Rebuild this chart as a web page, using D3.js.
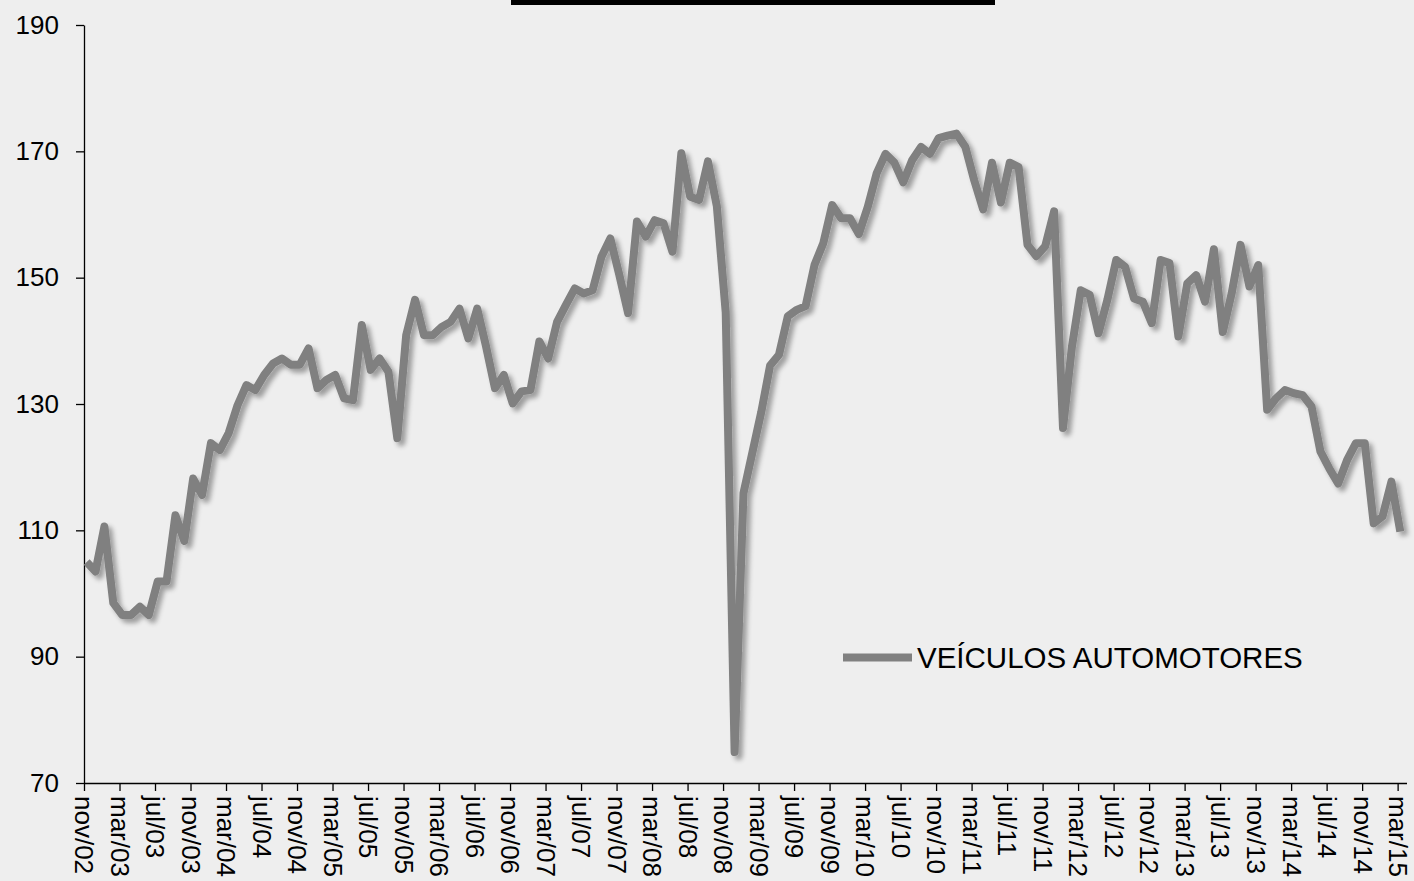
<!DOCTYPE html>
<html>
<head>
<meta charset="utf-8">
<script src="https://cdn.jsdelivr.net/npm/d3@7"></script>
<style>
  html, body { margin: 0; padding: 0; background: #eeeeee; }
  svg { display: block; }
  text { font-family: "Liberation Sans", Arial, sans-serif; fill: #000; }
</style>
</head>
<body>
<div id="chart"></div>
<script>
// ---------- Data ----------
const seriesName = "VEÍCULOS AUTOMOTORES";

// monthly index, nov/02 .. mar/15 (149 months)
const values = [
  105.0, 103.5, 110.6, 98.5, 96.6, 96.6, 97.9, 96.6, 101.9, 101.9,
  112.4, 108.3, 118.2, 115.6, 123.8, 122.7, 125.4, 129.8, 133.0, 132.2,
  134.6, 136.4, 137.2, 136.2, 136.2, 138.8, 132.5, 133.8, 134.6, 130.9,
  130.6, 142.5, 135.4, 137.2, 135.1, 124.6, 140.9, 146.5, 140.9, 140.9,
  142.2, 143.0, 145.1, 140.4, 145.1, 139.1, 132.5, 134.6, 130.1, 132.0,
  132.2, 139.9, 137.2, 143.0, 145.7, 148.3, 147.5, 148.0, 153.3, 156.2,
  150.5, 144.4, 158.9, 156.5, 159.1, 158.6, 154.1, 169.7, 162.8, 162.3,
  168.4, 161.3, 144.5, 74.9, 115.9, 122.3, 128.7, 136.1, 137.8, 143.9,
  144.9, 145.5, 152.0, 155.5, 161.5, 159.4, 159.4, 156.9, 161.2, 166.5,
  169.6, 168.2, 165.1, 168.6, 170.7, 169.6, 172.1, 172.5, 172.8, 170.7,
  165.4, 160.8, 168.2, 161.9, 168.2, 167.5, 155.2, 153.4, 155.0, 160.5,
  126.2, 139.0, 148.0, 147.3, 141.2, 146.5, 152.8, 151.7, 146.7, 146.2,
  142.8, 152.8, 152.3, 140.7, 149.1, 150.4, 146.2, 154.5, 141.4, 147.5,
  155.2, 148.6, 152.0, 129.1, 130.9, 132.2, 131.7, 131.4, 129.6, 122.5,
  119.8, 117.4, 121.1, 123.8, 123.8, 111.1, 112.2, 117.7, 109.8
];

// x tick labels, every 4 months
const tickLabels = [
  "nov/02", "mar/03", "jul/03", "nov/03", "mar/04", "jul/04", "nov/04",
  "mar/05", "jul/05", "nov/05", "mar/06", "jul/06", "nov/06", "mar/07",
  "jul/07", "nov/07", "mar/08", "jul/08", "nov/08", "mar/09", "jul/09",
  "nov/09", "mar/10", "jul/10", "nov/10", "mar/11", "jul/11", "nov/11",
  "mar/12", "jul/12", "nov/12", "mar/13", "jul/13", "nov/13", "mar/14",
  "jul/14", "nov/14", "mar/15"
];
const tickStep = 4;

const yTicks = [70, 90, 110, 130, 150, 170, 190];

// ---------- Layout ----------
const W = 1414, H = 881;
const plot = { left: 84, right: 1406.5, top: 25, bottom: 783 };

const svg = d3.select("#chart").append("svg")
  .attr("width", W)
  .attr("height", H);

svg.append("rect")
  .attr("width", W)
  .attr("height", H)
  .attr("fill", "#eeeeee");

// title box (cut off at top)
svg.append("rect")
  .attr("x", 511)
  .attr("y", -20)
  .attr("width", 484)
  .attr("height", 25)
  .attr("fill", "#000");

// drop shadow for the line
const defs = svg.append("defs");
const f = defs.append("filter")
  .attr("id", "shadow")
  .attr("x", "-5%").attr("y", "-5%")
  .attr("width", "110%").attr("height", "110%");
f.append("feGaussianBlur").attr("in", "SourceAlpha").attr("stdDeviation", 2.5).attr("result", "blur");
f.append("feOffset").attr("in", "blur").attr("dx", 4).attr("dy", 4).attr("result", "off");
f.append("feComponentTransfer").attr("in", "off").attr("result", "soft")
  .append("feFuncA").attr("type", "linear").attr("slope", 0.35);
const merge = f.append("feMerge");
merge.append("feMergeNode").attr("in", "soft");
merge.append("feMergeNode").attr("in", "SourceGraphic");

// ---------- Scales ----------
const x = d3.scaleLinear()
  .domain([0, 149])
  .range([plot.left, plot.right]);

const y = d3.scaleLinear()
  .domain([70, 190])
  .range([plot.bottom, plot.top]);

// ---------- Axes ----------
const yAxis = d3.axisLeft(y)
  .tickValues(yTicks)
  .tickSize(8)
  .tickSizeOuter(0)
  .tickPadding(17)
  .tickFormat(d3.format("d"));

const gy = svg.append("g")
  .attr("transform", `translate(${plot.left},0)`)
  .call(yAxis);
gy.selectAll("text").style("font-size", "26px");
gy.selectAll("path, line").attr("stroke", "#000").attr("stroke-width", 1.3);

const tickIdx = tickLabels.map((d, i) => i * tickStep);
const xAxis = d3.axisBottom(x)
  .tickValues(tickIdx)
  .tickSize(8)
  .tickSizeOuter(0)
  .tickFormat((d, i) => tickLabels[i]);

const gx = svg.append("g")
  .attr("transform", `translate(0,${plot.bottom})`)
  .call(xAxis);
gx.selectAll("path, line").attr("stroke", "#000").attr("stroke-width", 1.3);
gx.selectAll("text")
  .style("font-size", "26px")
  .style("text-anchor", "start")
  .attr("transform", "rotate(90)")
  .attr("x", 13)
  .attr("y", 0)
  .attr("dy", "0.35em");

// ---------- Line ----------
const line = d3.line()
  .x((d, i) => x(i + 0.3))
  .y(d => y(d));

svg.append("path")
  .datum(values)
  .attr("d", line)
  .attr("fill", "none")
  .attr("stroke", "#808080")
  .attr("stroke-width", 8)
  .attr("stroke-linejoin", "round")
  .attr("filter", "url(#shadow)");

// ---------- Legend ----------
const legend = svg.append("g").attr("transform", "translate(843,657.5)");
legend.append("line")
  .attr("x1", 0).attr("x2", 69)
  .attr("y1", 0).attr("y2", 0)
  .attr("stroke", "#808080")
  .attr("stroke-width", 8);
legend.append("text")
  .attr("x", 74)
  .attr("y", 10)
  .style("font-size", "29.5px")
  .text(seriesName);
</script>
</body>
</html>
